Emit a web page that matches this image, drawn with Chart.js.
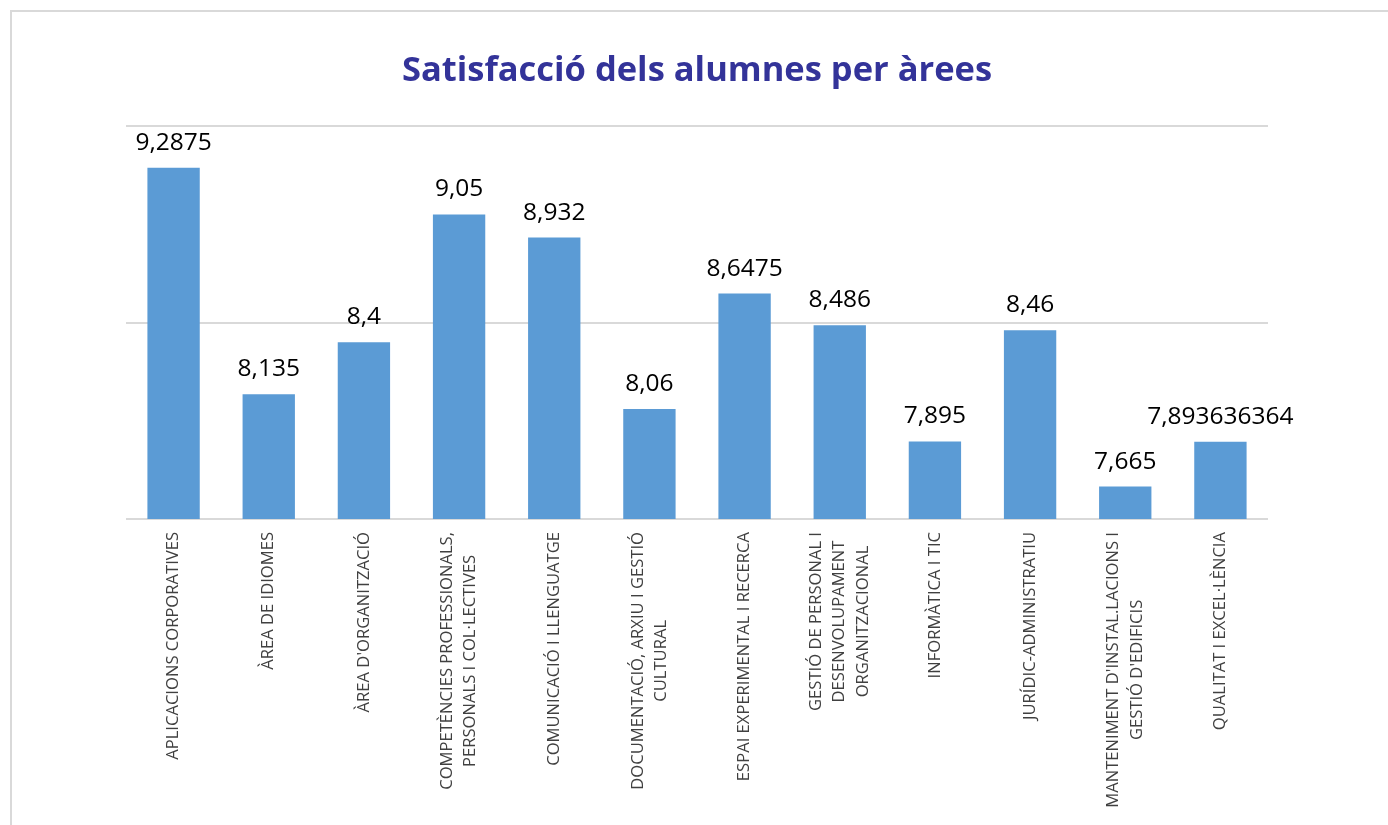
<!DOCTYPE html>
<html>
<head>
<meta charset="utf-8">
<script src="https://cdn.jsdelivr.net/npm/chart.js@4/dist/chart.umd.min.js"></script>
<style>
html,body{margin:0;padding:0;background:#fff;overflow:hidden;}
#wrap{position:absolute;left:0;top:0;width:1388px;height:825px;}
#frame{position:absolute;left:10px;top:10px;width:1420px;height:900px;border:2px solid #d9d9d9;box-sizing:border-box;}
canvas{position:absolute;left:0;top:0;}
</style>
</head>
<body>
<div id="wrap">
<div id="frame"></div>
<canvas id="c" width="1388" height="825"></canvas>
</div>
<script>
const titleText = "Satisfacció dels alumnes per àrees";
const categories = [
  ["APLICACIONS CORPORATIVES"],
  ["ÀREA DE IDIOMES"],
  ["ÀREA D'ORGANITZACIÓ"],
  ["COMPETÈNCIES PROFESSIONALS,", "PERSONALS I COL·LECTIVES"],
  ["COMUNICACIÓ I LLENGUATGE"],
  ["DOCUMENTACIÓ, ARXIU I GESTIÓ", "CULTURAL"],
  ["ESPAI EXPERIMENTAL I RECERCA"],
  ["GESTIÓ DE PERSONAL I", "DESENVOLUPAMENT", "ORGANITZACIONAL"],
  ["INFORMÀTICA I TIC"],
  ["JURÍDIC-ADMINISTRATIU"],
  ["MANTENIMENT D'INSTAL.LACIONS I", "GESTIÓ D'EDIFICIS"],
  ["QUALITAT I EXCEL·LÈNCIA"]
];
const values = [9.2875, 8.135, 8.4, 9.05, 8.932, 8.06, 8.6475, 8.486, 7.895, 8.46, 7.665, 7.893636364];
const valueLabels = ["9,2875", "8,135", "8,4", "9,05", "8,932", "8,06", "8,6475", "8,486", "7,895", "8,46", "7,665", "7,893636364"];
const yMin = 7.5, yMax = 9.5, yStep = 1;

const valueLabelPlugin = {
  id: 'valueLabels',
  afterDatasetsDraw(chart) {
    const ctx = chart.ctx;
    const meta = chart.getDatasetMeta(0);
    ctx.save();
    ctx.font = '24.5px "Open Sans"';
    ctx.fillStyle = '#000000';
    ctx.textAlign = 'center';
    ctx.textBaseline = 'alphabetic';
    meta.data.forEach((bar, i) => {
      ctx.fillText(valueLabels[i], bar.x, bar.y - 18);
    });
    ctx.restore();
  }
};

const catLabelPlugin = {
  id: 'catLabels',
  afterDraw(chart) {
    const ctx = chart.ctx;
    const xs = chart.scales.x;
    const top = chart.chartArea.bottom + 13;
    const lh = 23.3;
    ctx.save();
    ctx.font = '16.6px "Open Sans"';
    ctx.fillStyle = '#404040';
    ctx.textAlign = 'center';
    ctx.textBaseline = 'middle';
    categories.forEach((lines, i) => {
      const x = xs.getPixelForValue(i);
      let maxW = 0;
      lines.forEach(l => { maxW = Math.max(maxW, ctx.measureText(l).width); });
      ctx.save();
      ctx.translate(x, top);
      ctx.rotate(-Math.PI / 2);
      const n = lines.length;
      lines.forEach((l, j) => {
        ctx.fillText(l, -maxW / 2, (j - (n - 1) / 2) * lh);
      });
      ctx.restore();
    });
    ctx.restore();
  }
};

new Chart(document.getElementById('c'), {
  type: 'bar',
  data: {
    labels: categories,
    datasets: [{
      data: values,
      backgroundColor: '#5B9BD5',
      borderWidth: 0,
      categoryPercentage: 1.0,
      barPercentage: 0.55
    }]
  },
  options: {
    responsive: false,
    animation: false,
    devicePixelRatio: 1,
    layout: { padding: { left: 126, right: 120, top: 20, bottom: 306 } },
    plugins: {
      legend: { display: false },
      tooltip: { enabled: false },
      title: {
        display: true,
        text: titleText,
        color: '#333399',
        font: { family: '"Open Sans"', size: 34.5, weight: 'bold', lineHeight: 1.2 },
        padding: { top: 30, bottom: 34.6 }
      }
    },
    scales: {
      x: {
        ticks: { display: false },
        grid: { display: false, drawTicks: false },
        border: { display: false }
      },
      y: {
        min: yMin,
        max: yMax,
        ticks: { display: false, stepSize: yStep },
        grid: { color: '#d9d9d9', lineWidth: 2, drawTicks: false },
        border: { display: false }
      }
    }
  },
  plugins: [valueLabelPlugin, catLabelPlugin]
});
</script>
</body>
</html>
